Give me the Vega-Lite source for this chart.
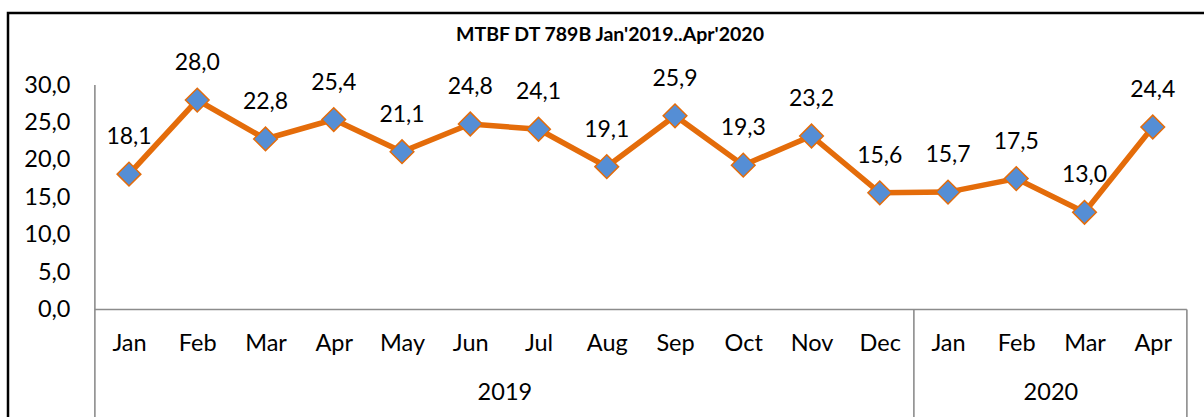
{
  "$schema": "https://vega.github.io/schema/vega-lite/v6.json",
  "autosize": {"type": "none"},
  "padding": {"left": 8, "top": 13, "right": 0, "bottom": 0},
  "width": 1204,
  "height": 408,
  "background": "white",
  "title": {
    "text": "MTBF DT 789B Jan'2019..Apr'2020",
    "frame": "group",
    "anchor": "middle",
    "orient": "top",
    "offset": -41,
    "baseline": "middle",
    "font": "Lato",
    "fontSize": 19.5,
    "fontWeight": "bold",
    "color": "#000000"
  },
  "datasets": {
    "mtbf": [
      {"idx": 1, "month": "Jan", "year": "2019", "value": 18.1},
      {"idx": 2, "month": "Feb", "year": "2019", "value": 28.0},
      {"idx": 3, "month": "Mar", "year": "2019", "value": 22.8},
      {"idx": 4, "month": "Apr", "year": "2019", "value": 25.4},
      {"idx": 5, "month": "May", "year": "2019", "value": 21.1},
      {"idx": 6, "month": "Jun", "year": "2019", "value": 24.8},
      {"idx": 7, "month": "Jul", "year": "2019", "value": 24.1},
      {"idx": 8, "month": "Aug", "year": "2019", "value": 19.1},
      {"idx": 9, "month": "Sep", "year": "2019", "value": 25.9},
      {"idx": 10, "month": "Oct", "year": "2019", "value": 19.3},
      {"idx": 11, "month": "Nov", "year": "2019", "value": 23.2},
      {"idx": 12, "month": "Dec", "year": "2019", "value": 15.6},
      {"idx": 13, "month": "Jan", "year": "2020", "value": 15.7},
      {"idx": 14, "month": "Feb", "year": "2020", "value": 17.5},
      {"idx": 15, "month": "Mar", "year": "2020", "value": 13.0},
      {"idx": 16, "month": "Apr", "year": "2020", "value": 24.4}
    ],
    "frame": [
      {"x": 0.5, "x2": 0.5, "y": 30, "y2": -15},
      {"x": 12.5, "x2": 12.5, "y": 0, "y2": -15},
      {"x": 16.5, "x2": 16.5, "y": 0, "y2": -15},
      {"x": 0.5, "x2": 16.5, "y": 0, "y2": 0}
    ]
  },
  "layer": [
    {
      "data": {"name": "frame"},
      "mark": {"type": "rule", "color": "#8c8c8c", "strokeWidth": 1.6},
      "encoding": {
        "x": {
          "field": "x", "type": "quantitative",
          "scale": {"domain": [-0.773, 16.868], "nice": false, "zero": false},
          "axis": {
            "orient": "bottom", "offset": -111.5, "values": [6.5, 14.5],
            "labelExpr": "datum.value < 12.5 ? '2019' : '2020'",
            "domain": false, "ticks": false, "grid": false, "title": null,
            "labelPadding": 71, "labelFont": "Lato", "labelFontSize": 23.5,
            "labelColor": "#000000", "labelFlush": false, "labelOverlap": false,
            "labelBaseline": "top"
          }
        },
        "x2": {"field": "x2"},
        "y": {
          "field": "y", "type": "quantitative",
          "scale": {"domain": [-14.9, 39.64], "nice": false, "zero": false},
          "axis": {
            "orient": "left", "offset": -87, "values": [0, 5, 10, 15, 20, 25, 30],
            "format": ".1f", "domain": false, "ticks": false, "grid": false,
            "title": null, "labelPadding": 25, "labelFont": "Lato",
            "labelFontSize": 23.5, "labelColor": "#000000", "labelFlush": false,
            "labelOverlap": false
          }
        },
        "y2": {"field": "y2"}
      }
    },
    {
      "data": {"name": "mtbf"},
      "mark": {"type": "line", "color": "#E46C0A", "strokeWidth": 5.5},
      "encoding": {
        "x": {
          "field": "idx", "type": "quantitative",
          "axis": {
            "orient": "bottom", "offset": -111.5,
            "values": [1, 2, 3, 4, 5, 6, 7, 8, 9, 10, 11, 12, 13, 14, 15, 16],
            "labelExpr": "['Jan','Feb','Mar','Apr','May','Jun','Jul','Aug','Sep','Oct','Nov','Dec','Jan','Feb','Mar','Apr'][datum.value - 1]",
            "domain": false, "ticks": false, "grid": false, "title": null,
            "labelPadding": 22, "labelFont": "Lato", "labelFontSize": 23.5,
            "labelColor": "#000000", "labelFlush": false, "labelOverlap": false,
            "labelBaseline": "top"
          }
        },
        "y": {"field": "value", "type": "quantitative"}
      }
    },
    {
      "data": {"name": "mtbf"},
      "mark": {"type": "point", "shape": "diamond", "size": 560, "filled": true, "fill": "#558ED5", "stroke": "#E46C0A", "strokeWidth": 1.5, "opacity": 1},
      "encoding": {
        "x": {"field": "idx", "type": "quantitative", "axis": null},
        "y": {"field": "value", "type": "quantitative"}
      }
    },
    {
      "data": {"name": "mtbf"},
      "mark": {"type": "text", "dy": -37, "baseline": "middle", "font": "Lato", "fontSize": 23, "color": "#000000"},
      "encoding": {
        "x": {"field": "idx", "type": "quantitative", "axis": null},
        "y": {"field": "value", "type": "quantitative"},
        "text": {"field": "value", "type": "quantitative", "format": ".1f"}
      }
    }
  ],
  "resolve": {"axis": {"x": "independent"}},
  "config": {
    "locale": {"number": {"decimal": ",", "thousands": ".", "grouping": [3], "currency": ["", " €"]}},
    "view": {"stroke": "#000000", "strokeWidth": 2.5},
    "axis": {"grid": false}
  }
}
